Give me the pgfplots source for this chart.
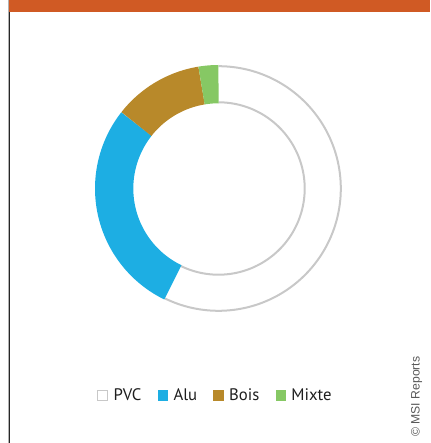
\documentclass[border=0pt]{standalone}
\usepackage{pgfplots}
\pgfplotsset{compat=1.18}
\usepackage{pgfplotstable}
\usepackage{fontspec}
\setmainfont{PT Sans}
\newfontfamily\creditfont{Liberation Sans}
\definecolor{orangebar}{RGB}{208,90,36}
\definecolor{alublue}{RGB}{29,174,227}
\definecolor{boisbrown}{RGB}{184,137,42}
\definecolor{mixtegreen}{RGB}{134,200,100}
\definecolor{pvcgray}{RGB}{200,200,200}
\definecolor{textdark}{RGB}{30,30,30}

\pgfplotstableread{
name value
PVC 57.2
Alu 28.4
Bois 11.8
Mixte 2.6
}\shares

\begin{document}%
\begin{tikzpicture}
\pgfplotstablegetelem{0}{value}\of\shares \let\vPVC\pgfplotsretval
\pgfplotstablegetelem{1}{value}\of\shares \let\vAlu\pgfplotsretval
\pgfplotstablegetelem{2}{value}\of\shares \let\vBois\pgfplotsretval
\pgfplotstablegetelem{3}{value}\of\shares \let\vMixte\pgfplotsretval
\pgfmathsetmacro{\aA}{\vPVC}
\pgfmathsetmacro{\aB}{\vPVC+\vAlu}
\pgfmathsetmacro{\aC}{\aB+\vBois}
\pgfmathsetmacro{\aD}{\aC+\vMixte}
\begin{axis}[
  at={(0,0)}, anchor=south west,
  scale only axis, width=430pt, height=443pt,
  xmin=0, xmax=430, ymin=0, ymax=443, y dir=reverse,
  hide axis, clip=false,
  legend image code/.code={\path[#1] (0pt,-5.3pt) rectangle (10.6pt,5.3pt);},
  legend style={at={(axis cs:96.5,395.5)}, anchor=west, draw=none, fill=none,
    legend columns=-1, font=\fontsize{16.7}{18}\selectfont, text=textdark,
    inner sep=0pt, outer sep=0pt,
    /tikz/every odd column/.append style={column sep=3.2pt},
    /tikz/every even column/.append style={column sep=14.2pt}},
]
% frame decorations
\fill[orangebar] (axis cs:8.5,0) rectangle (axis cs:430,12);
\draw[gray!60, line width=0.8pt] (axis cs:8,0) -- (axis cs:8,443);
\draw[black!85, line width=1.4pt] (axis cs:9.5,12) -- (axis cs:9.5,443);
% PVC: outlined only
\addplot[draw=pvcgray, line width=2pt, domain=0:\aA, samples=150, variable=\t, forget plot]
  ({218.5+122.3*sin(3.6*\t)}, {188.5-122.3*cos(3.6*\t)});
\addplot[draw=pvcgray, line width=2pt, domain=0:\aA, samples=150, variable=\t, forget plot]
  ({218.5+86.2*sin(3.6*\t)}, {188.5-86.2*cos(3.6*\t)});
% Alu
\addplot[draw=alublue, line width=38.3pt, domain=\aA:\aB, samples=90, variable=\t, forget plot]
  ({218.5+104.35*sin(3.6*\t)}, {188.5-104.35*cos(3.6*\t)});
% Bois
\addplot[draw=boisbrown, line width=38.3pt, domain=\aB:\aC, samples=60, variable=\t, forget plot]
  ({218.5+104.35*sin(3.6*\t)}, {188.5-104.35*cos(3.6*\t)});
% Mixte
\addplot[draw=mixtegreen, line width=38.3pt, domain=\aC:\aD, samples=20, variable=\t, forget plot]
  ({218.5+104.35*sin(3.6*\t)}, {188.5-104.35*cos(3.6*\t)});
% legend
\addlegendimage{draw=pvcgray, fill=white, line width=1.3pt}
\addlegendentry{PVC}
\addlegendimage{fill=alublue, draw=none}
\addlegendentry{Alu}
\addlegendimage{fill=boisbrown, draw=none}
\addlegendentry{Bois}
\addlegendimage{fill=mixtegreen, draw=none}
\addlegendentry{Mixte}
\node[rotate=90, anchor=base, font=\creditfont\fontsize{12.2}{14}\selectfont, text=black!65, inner sep=0pt]
  at (axis cs:419.5,396.7) {© MSI Reports};
\end{axis}
\pgfresetboundingbox
\path (0,0) rectangle (430pt,443pt);
\end{tikzpicture}%
\end{document}
